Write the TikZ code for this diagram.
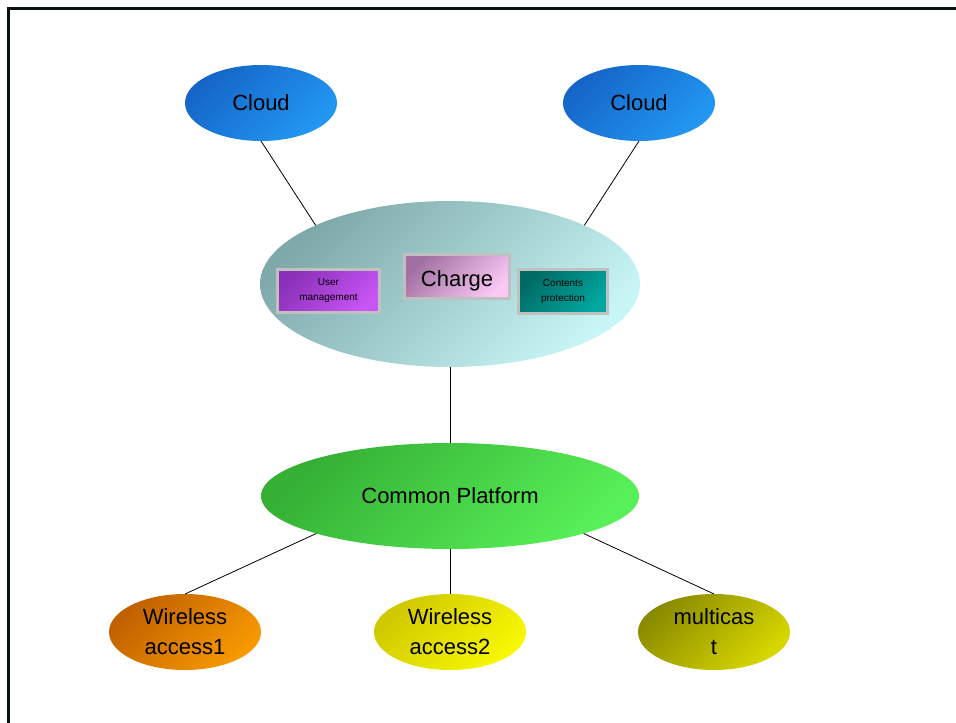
\documentclass[tikz,border=0pt]{standalone}
\usepackage{fontspec}
\setmainfont{Liberation Sans}
\usetikzlibrary{shapes.geometric}

% fill pairs: dark top-left corner, light bottom-right corner
\definecolor{cloudA}{HTML}{1565C8}
\definecolor{cloudB}{HTML}{2298F2}
\definecolor{hubA}{HTML}{7FA8AA}
\definecolor{hubB}{HTML}{C8F6F6}
\definecolor{userA}{HTML}{8A30B8}
\definecolor{userB}{HTML}{C855F5}
\definecolor{chargeA}{HTML}{A070A0}
\definecolor{chargeB}{HTML}{FAC8F5}
\definecolor{protA}{HTML}{006A64}
\definecolor{protB}{HTML}{00A8A0}
\definecolor{cpA}{HTML}{35B035}
\definecolor{cpB}{HTML}{58F058}
\definecolor{waA}{HTML}{C06000}
\definecolor{waB}{HTML}{F89A00}
\definecolor{wbA}{HTML}{D0C800}
\definecolor{wbB}{HTML}{F8F800}
\definecolor{mcA}{HTML}{8A8A00}
\definecolor{mcB}{HTML}{D8D800}
\definecolor{boxedge}{HTML}{C0C0C0}

\tikzset{
  oval/.style={ellipse, inner sep=0pt, outer sep=0pt, align=center,
    font=\fontsize{22}{30}\selectfont},
  grad/.style 2 args={top color=#1, bottom color=#2, shading angle=45},
  tag/.style={rectangle, draw=boxedge, line width=2.5pt, inner sep=0pt,
    outer sep=0pt, align=center},
  link/.style={draw=black, line width=0.8pt},
}

\begin{document}
\begin{tikzpicture}[x=1pt, y=-1pt]
\useasboundingbox (0,0) rectangle (956,723);

% page frame (left and top edges)
\draw[line width=2.7pt, draw={rgb,255:red,8;green,20;blue,14}]
  (8.7,724) -- (8.7,8.3) -- (957,8.3);

% clouds
\node[oval, grad={cloudA}{cloudB}, minimum width=152pt, minimum height=76pt]
  (cloudL) at (261,103) {Cloud};
\node[oval, grad={cloudA}{cloudB}, minimum width=152pt, minimum height=76pt]
  (cloudR) at (639,103) {Cloud};

% service hub
\node[oval, grad={hubA}{hubB}, minimum width=380pt, minimum height=166pt]
  (hub) at (450,284) {};
\node[tag, grad={userA}{userB}, minimum width=102pt, minimum height=43pt,
  font=\fontsize{10}{15}\selectfont] (user) at (328.5,291) {User\\management};
\node[tag, grad={chargeA}{chargeB}, minimum width=105pt, minimum height=44pt,
  font=\fontsize{22}{24}\selectfont, text height=22pt, text depth=3pt]
  (charge) at (457,276.5) {Charge};
\node[tag, grad={protA}{protB}, minimum width=89pt, minimum height=44pt,
  font=\fontsize{10}{15}\selectfont] (prot) at (563,291.5) {Contents\\protection};

% common platform
\node[oval, grad={cpA}{cpB}, minimum width=378pt, minimum height=106pt]
  (cp) at (450,496) {Common Platform};

% access networks
\node[oval, grad={waA}{waB}, minimum width=152pt, minimum height=76pt]
  (wa1) at (185,632) {Wireless\\access1};
\node[oval, grad={wbA}{wbB}, minimum width=152pt, minimum height=76pt]
  (wa2) at (450,632) {Wireless\\access2};
\node[oval, grad={mcA}{mcB}, minimum width=152pt, minimum height=76pt]
  (mc) at (714,632) {multicas\\t};

% connectors
\draw[link] (cloudL.south) -- (hub.north west);
\draw[link] (cloudR.south) -- (hub.north east);
\draw[link] (hub.south) -- (cp.north);
\draw[link] (cp.south west) -- (wa1.north);
\draw[link] (cp.south) -- (wa2.north);
\draw[link] (cp.south east) -- (mc.north);
\end{tikzpicture}
\end{document}
